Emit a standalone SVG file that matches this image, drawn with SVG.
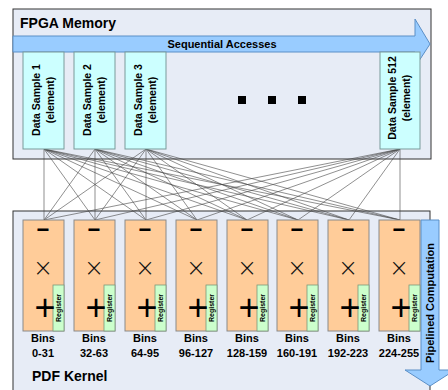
<svg xmlns="http://www.w3.org/2000/svg" width="448" height="390" viewBox="0 0 448 390">
<style>
.cont{fill:#e7ecf6;stroke:#333;stroke-width:1}
.t{font-family:"Liberation Sans",Arial,sans-serif;font-weight:bold;fill:#000}
.ds{fill:#ccffff;stroke:#7a9a9a;stroke-width:1}
.pe{fill:#ffcc99;stroke:#8a8a8a;stroke-width:1}
.reg{fill:#ccffcc;stroke:#7a9a7a;stroke-width:0.8}
.arr{fill:#99ccff;stroke:#5b8fc7;stroke-width:1}
.dst{font-size:10.5px;text-anchor:middle}
.sym{text-anchor:middle}
.mn{font-size:22px}
.mul{font-family:"DejaVu Sans",sans-serif;font-size:24px;font-weight:200;fill:#111}
.pl{font-size:36px;font-weight:normal}
.bin{font-size:11px;text-anchor:middle}
.rt{font-size:7px;text-anchor:middle}
#connectors line{stroke:#444;stroke-width:0.6}
</style>
<rect width="448" height="390" fill="#fff"/>
<g id="fpga-memory">
<rect class="cont" x="13" y="9" width="418" height="150"/>
<text class="t" x="20" y="28" font-size="14">FPGA Memory</text>
</g>
<g id="pdf-kernel">
<rect class="cont" x="13" y="211" width="417" height="182"/>
<text class="t" x="32" y="381" font-size="14">PDF Kernel</text>
</g>
<g id="connectors">
<line x1="44" y1="149" x2="44" y2="220"/><line x1="44" y1="149" x2="95" y2="220"/><line x1="44" y1="149" x2="146" y2="220"/><line x1="44" y1="149" x2="197" y2="220"/><line x1="44" y1="149" x2="247" y2="220"/><line x1="44" y1="149" x2="298" y2="220"/><line x1="44" y1="149" x2="349" y2="220"/><line x1="44" y1="149" x2="400" y2="220"/>
<line x1="95" y1="149" x2="44" y2="220"/><line x1="95" y1="149" x2="95" y2="220"/><line x1="95" y1="149" x2="146" y2="220"/><line x1="95" y1="149" x2="197" y2="220"/><line x1="95" y1="149" x2="247" y2="220"/><line x1="95" y1="149" x2="298" y2="220"/><line x1="95" y1="149" x2="349" y2="220"/><line x1="95" y1="149" x2="400" y2="220"/>
<line x1="146" y1="149" x2="44" y2="220"/><line x1="146" y1="149" x2="95" y2="220"/><line x1="146" y1="149" x2="146" y2="220"/><line x1="146" y1="149" x2="197" y2="220"/><line x1="146" y1="149" x2="247" y2="220"/><line x1="146" y1="149" x2="298" y2="220"/><line x1="146" y1="149" x2="349" y2="220"/><line x1="146" y1="149" x2="400" y2="220"/>
<line x1="400" y1="149" x2="44" y2="220"/><line x1="400" y1="149" x2="95" y2="220"/><line x1="400" y1="149" x2="146" y2="220"/><line x1="400" y1="149" x2="197" y2="220"/><line x1="400" y1="149" x2="247" y2="220"/><line x1="400" y1="149" x2="298" y2="220"/><line x1="400" y1="149" x2="349" y2="220"/><line x1="400" y1="149" x2="400" y2="220"/>
</g>
<g id="seq-arrow">
<path class="arr" d="M13,36 H415 V19 L430,44 L415,67 V52 H13 Z"/>
<text class="t" x="222" y="48" font-size="11" text-anchor="middle">Sequential Accesses</text>
</g>
<g id="ds1">
<rect class="ds" x="23" y="52" width="41" height="97"/>
<text class="t dst" transform="translate(43.5,100) rotate(-90)"><tspan x="0" y="-4">Data Sample 1</tspan><tspan x="0" y="10">(element)</tspan></text>
</g>
<g id="ds2">
<rect class="ds" x="74" y="52" width="41" height="97"/>
<text class="t dst" transform="translate(94.5,100) rotate(-90)"><tspan x="0" y="-4">Data Sample 2</tspan><tspan x="0" y="10">(element)</tspan></text>
</g>
<g id="ds3">
<rect class="ds" x="125" y="52" width="41" height="97"/>
<text class="t dst" transform="translate(145.5,100) rotate(-90)"><tspan x="0" y="-4">Data Sample 3</tspan><tspan x="0" y="10">(element)</tspan></text>
</g>
<g id="ds512">
<rect class="ds" x="380" y="52" width="40" height="97"/>
<text class="t dst" transform="translate(400,98) rotate(-90)"><tspan x="0" y="-4">Data Sample 512</tspan><tspan x="0" y="10">(element)</tspan></text>
</g>
<g id="ellipsis" fill="#000">
<rect x="238" y="96" width="8" height="8"/><rect x="268" y="96" width="8" height="8"/><rect x="298" y="96" width="8" height="8"/>
</g>
<g id="pipe-arrow">
<path class="arr" d="M421,220 H439 V370 H455 L430,386 L405,370 H421 Z"/>
<text class="t" transform="translate(434,303) rotate(-90)" font-size="11" text-anchor="middle">Pipelined Computation</text>
</g>
<g id="pe1">
<rect class="pe" x="23" y="220" width="41" height="111"/>
<rect class="reg" x="53" y="285" width="11" height="46"/>
<text class="t rt" transform="translate(61,308) rotate(-90)">Register</text>
<text class="t sym mn" x="43" y="237">−</text>
<text class="t sym mul" x="43" y="276">×</text>
<text class="t sym pl" x="45" y="320">+</text>
<text class="t bin" x="43" y="342">Bins</text><text class="t bin" x="43" y="357">0-31</text>
</g>
<g id="pe2">
<rect class="pe" x="74" y="220" width="41" height="111"/>
<rect class="reg" x="104" y="285" width="11" height="46"/>
<text class="t rt" transform="translate(112,308) rotate(-90)">Register</text>
<text class="t sym mn" x="94" y="237">−</text>
<text class="t sym mul" x="94" y="276">×</text>
<text class="t sym pl" x="96" y="320">+</text>
<text class="t bin" x="94" y="342">Bins</text><text class="t bin" x="94" y="357">32-63</text>
</g>
<g id="pe3">
<rect class="pe" x="125" y="220" width="41" height="111"/>
<rect class="reg" x="155" y="285" width="11" height="46"/>
<text class="t rt" transform="translate(163,308) rotate(-90)">Register</text>
<text class="t sym mn" x="145" y="237">−</text>
<text class="t sym mul" x="145" y="276">×</text>
<text class="t sym pl" x="147" y="320">+</text>
<text class="t bin" x="145" y="342">Bins</text><text class="t bin" x="145" y="357">64-95</text>
</g>
<g id="pe4">
<rect class="pe" x="176" y="220" width="41" height="111"/>
<rect class="reg" x="206" y="285" width="11" height="46"/>
<text class="t rt" transform="translate(214,308) rotate(-90)">Register</text>
<text class="t sym mn" x="196" y="237">−</text>
<text class="t sym mul" x="196" y="276">×</text>
<text class="t sym pl" x="198" y="320">+</text>
<text class="t bin" x="196" y="342">Bins</text><text class="t bin" x="196" y="357">96-127</text>
</g>
<g id="pe5">
<rect class="pe" x="227" y="220" width="41" height="111"/>
<rect class="reg" x="257" y="285" width="11" height="46"/>
<text class="t rt" transform="translate(265,308) rotate(-90)">Register</text>
<text class="t sym mn" x="247" y="237">−</text>
<text class="t sym mul" x="247" y="276">×</text>
<text class="t sym pl" x="249" y="320">+</text>
<text class="t bin" x="247" y="342">Bins</text><text class="t bin" x="247" y="357">128-159</text>
</g>
<g id="pe6">
<rect class="pe" x="277" y="220" width="41" height="111"/>
<rect class="reg" x="307" y="285" width="11" height="46"/>
<text class="t rt" transform="translate(315,308) rotate(-90)">Register</text>
<text class="t sym mn" x="297" y="237">−</text>
<text class="t sym mul" x="297" y="276">×</text>
<text class="t sym pl" x="299" y="320">+</text>
<text class="t bin" x="297" y="342">Bins</text><text class="t bin" x="297" y="357">160-191</text>
</g>
<g id="pe7">
<rect class="pe" x="328" y="220" width="41" height="111"/>
<rect class="reg" x="358" y="285" width="11" height="46"/>
<text class="t rt" transform="translate(366,308) rotate(-90)">Register</text>
<text class="t sym mn" x="348" y="237">−</text>
<text class="t sym mul" x="348" y="276">×</text>
<text class="t sym pl" x="350" y="320">+</text>
<text class="t bin" x="348" y="342">Bins</text><text class="t bin" x="348" y="357">192-223</text>
</g>
<g id="pe8">
<rect class="pe" x="379" y="220" width="41" height="111"/>
<rect class="reg" x="409" y="285" width="11" height="46"/>
<text class="t rt" transform="translate(417,308) rotate(-90)">Register</text>
<text class="t sym mn" x="399" y="237">−</text>
<text class="t sym mul" x="399" y="276">×</text>
<text class="t sym pl" x="401" y="320">+</text>
<text class="t bin" x="399" y="342">Bins</text><text class="t bin" x="399" y="357">224-255</text>
</g>
</svg>
